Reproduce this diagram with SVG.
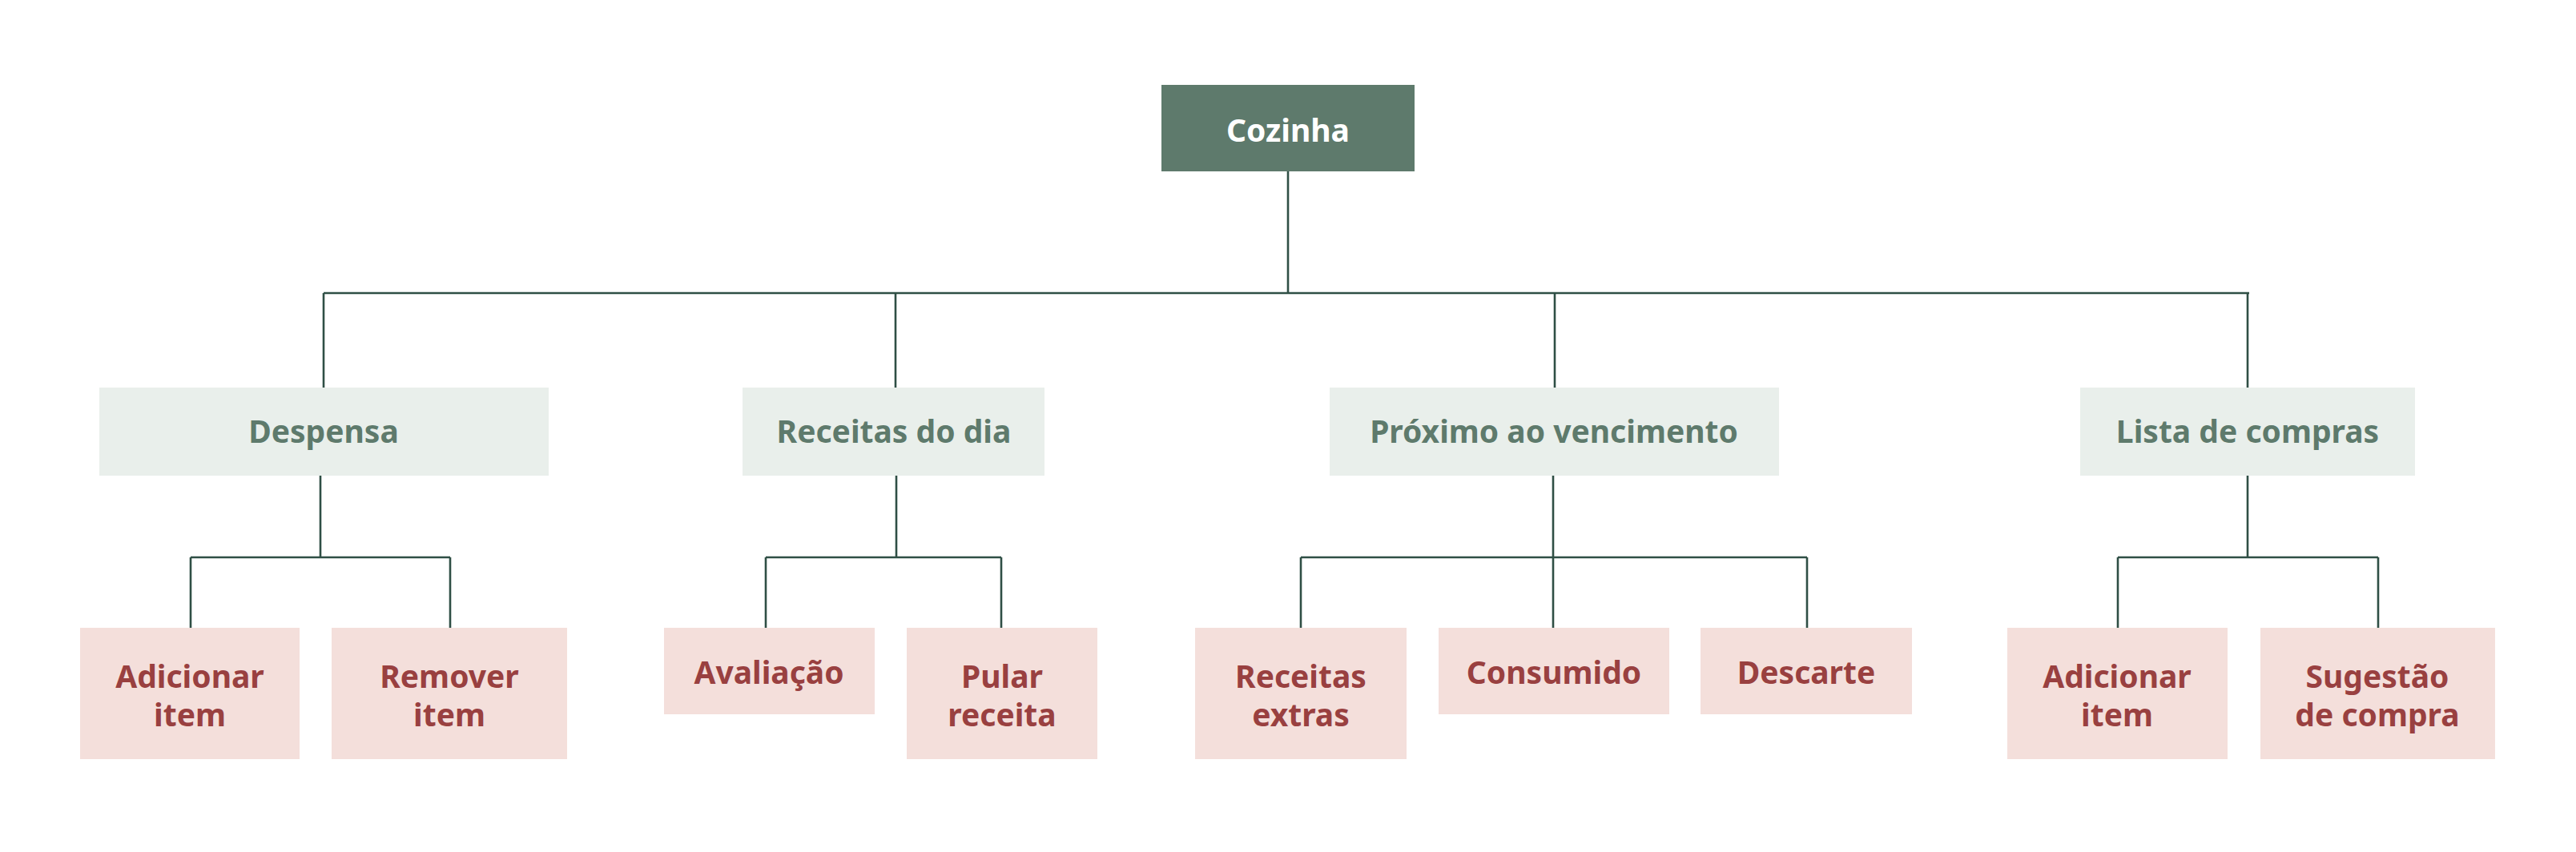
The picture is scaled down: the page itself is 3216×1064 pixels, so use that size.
<svg xmlns="http://www.w3.org/2000/svg" width="3216" height="1064" viewBox="0 0 3216 1064">
<style>
text{font-family:"Noto Sans","Open Sans","DejaVu Sans",sans-serif;font-weight:700;font-size:39px;text-anchor:middle}
.root rect{fill:#5e7a6c}
.root text{fill:#ffffff}
.l1 rect{fill:#e9efeb}
.l1 text{fill:#5e7a6c}
.l2 rect{fill:#f4dfdb}
.l2 text{fill:#994040}
#connectors path{fill:none;stroke:#2f4f45;stroke-width:2.6}
</style>
<rect width="3216" height="1064" fill="#ffffff"/>
<g id="connectors">
<path d="M1608 214V366M404 366H2808M404 366V484M1118 366V484M1941 366V484M2806 366V484"/>
<path d="M400 594V696M238 696H562M238 696V784M562 696V784"/>
<path d="M1119 594V696M956 696H1250M956 696V784M1250 696V784"/>
<path d="M1939 594V696M1624 696H2256M1624 696V784M1939 696V784M2256 696V784"/>
<path d="M2806 594V696M2644 696H2969M2644 696V784M2969 696V784"/>
</g>
<g id="cozinha" class="root"><rect x="1450" y="106" width="316" height="108"/><text x="1608" y="177">Cozinha</text></g>
<g id="despensa" class="l1"><rect x="124" y="484" width="561" height="110"/><text x="404" y="553">Despensa</text></g>
<g id="receitas-do-dia" class="l1"><rect x="927" y="484" width="377" height="110"/><text x="1116" y="553">Receitas do dia</text></g>
<g id="proximo-ao-vencimento" class="l1"><rect x="1660" y="484" width="561" height="110"/><text x="1940" y="553">Próximo ao vencimento</text></g>
<g id="lista-de-compras" class="l1"><rect x="2597" y="484" width="418" height="110"/><text x="2806" y="553">Lista de compras</text></g>
<g id="adicionar-item-1" class="l2"><rect x="100" y="784" width="274" height="164"/><text x="237" y="859">Adicionar</text><text x="237" y="907">item</text></g>
<g id="remover-item" class="l2"><rect x="414" y="784" width="294" height="164"/><text x="561" y="859">Remover</text><text x="561" y="907">item</text></g>
<g id="avaliacao" class="l2"><rect x="829" y="784" width="263" height="108"/><text x="960" y="854">Avaliação</text></g>
<g id="pular-receita" class="l2"><rect x="1132" y="784" width="238" height="164"/><text x="1251" y="859">Pular</text><text x="1251" y="907">receita</text></g>
<g id="receitas-extras" class="l2"><rect x="1492" y="784" width="264" height="164"/><text x="1624" y="859">Receitas</text><text x="1624" y="907">extras</text></g>
<g id="consumido" class="l2"><rect x="1796" y="784" width="288" height="108"/><text x="1940" y="854">Consumido</text></g>
<g id="descarte" class="l2"><rect x="2123" y="784" width="264" height="108"/><text x="2255" y="854">Descarte</text></g>
<g id="adicionar-item-2" class="l2"><rect x="2506" y="784" width="275" height="164"/><text x="2643" y="859">Adicionar</text><text x="2643" y="907">item</text></g>
<g id="sugestao-de-compra" class="l2"><rect x="2822" y="784" width="293" height="164"/><text x="2968" y="859">Sugestão</text><text x="2968" y="907">de compra</text></g>
</svg>
